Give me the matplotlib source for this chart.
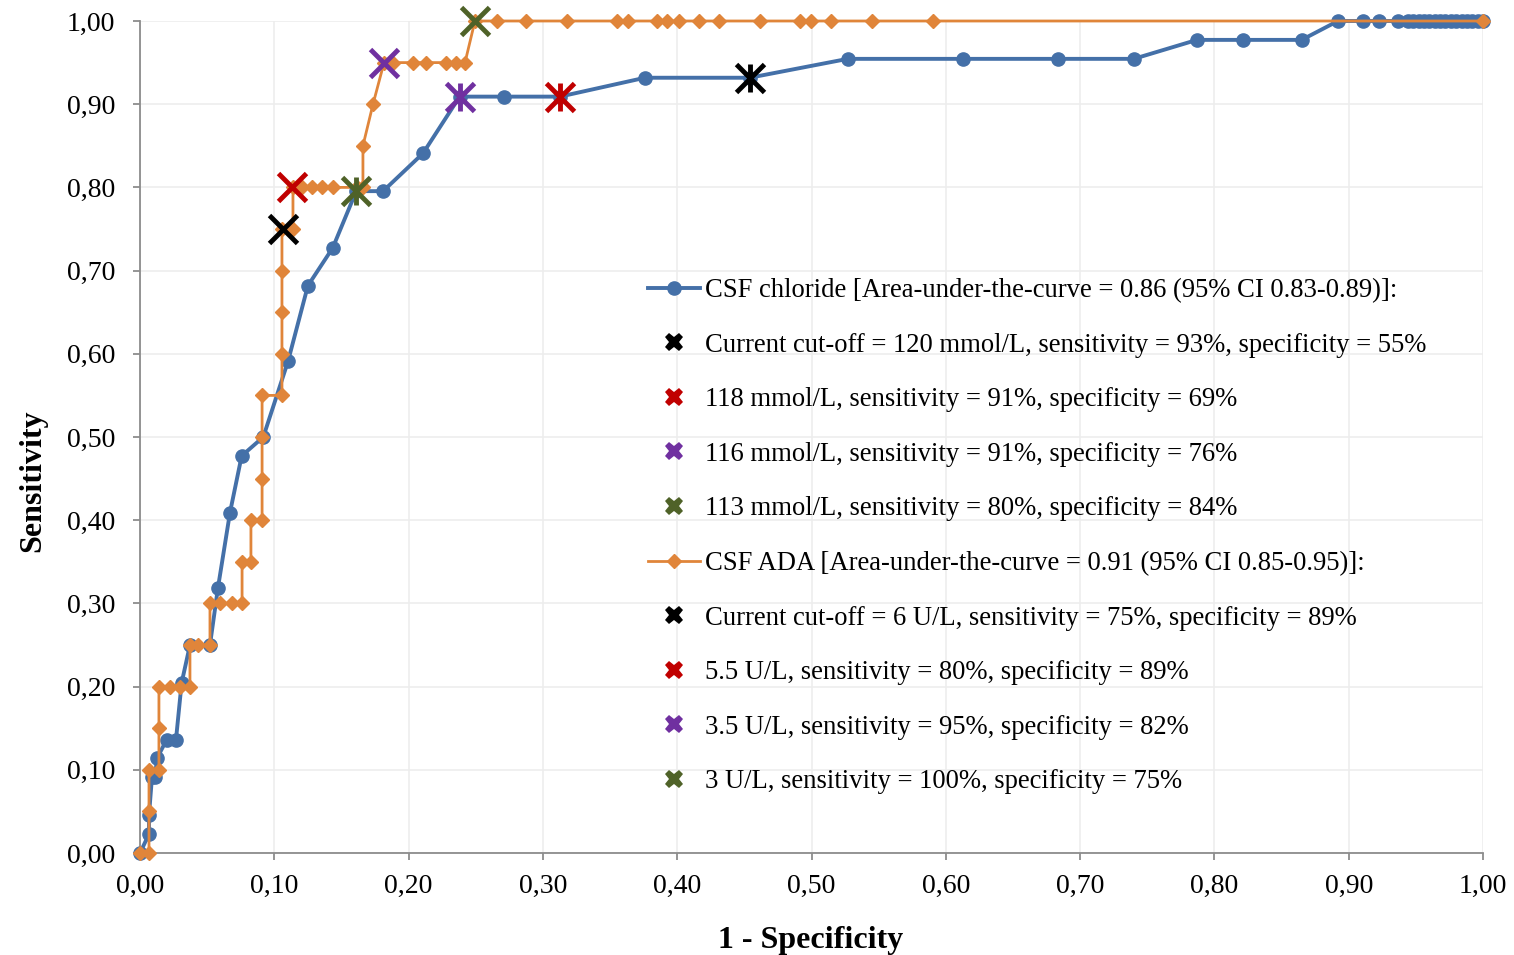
import matplotlib
matplotlib.use("Agg")
import matplotlib.pyplot as plt
from matplotlib.lines import Line2D
from matplotlib.ticker import FuncFormatter, MultipleLocator

plt.rcParams['font.family'] = ['Liberation Serif', 'DejaVu Serif']

# CSF chloride ROC curve
chl_fpr = [0.0, 0.0067, 0.0067, 0.0089, 0.0112, 0.0126, 0.0199, 0.0268, 0.0310,
           0.0372, 0.0521, 0.0580, 0.0670, 0.0757, 0.0918, 0.1102, 0.1250, 0.1435,
           0.1610, 0.1810, 0.2107, 0.2380, 0.2710, 0.3127, 0.3760, 0.4540, 0.5270,
           0.6130, 0.6835, 0.7400, 0.7870, 0.8210, 0.8650, 0.8920, 0.9110, 0.9226,
           0.9370, 0.9440, 0.9480, 0.9520, 0.9560, 0.9600, 0.9640, 0.9680, 0.9720,
           0.9760, 0.9800, 0.9840, 0.9880, 0.9920, 0.9960, 1.0]
chl_tpr = [0.0, 0.0227, 0.0455, 0.0909, 0.0909, 0.1136, 0.1364, 0.1364, 0.2045,
           0.25, 0.25, 0.3182, 0.4091, 0.4773, 0.50, 0.5909, 0.6818, 0.7273,
           0.7955, 0.7955, 0.8409, 0.9091, 0.9091, 0.9091, 0.9318, 0.9318, 0.9545,
           0.9545, 0.9545, 0.9545, 0.9773, 0.9773, 0.9773, 1.0, 1.0, 1.0,
           1.0, 1.0, 1.0, 1.0, 1.0, 1.0, 1.0, 1.0, 1.0,
           1.0, 1.0, 1.0, 1.0, 1.0, 1.0, 1.0]

# CSF ADA ROC curve
ada_fpr = [0.0, 0.0067, 0.0067, 0.0067, 0.0141, 0.0141, 0.0141, 0.0223, 0.0298,
           0.0372, 0.0372, 0.0432, 0.0521, 0.0521, 0.0596, 0.0685, 0.0760, 0.0760,
           0.0826, 0.0826, 0.0909, 0.0909, 0.0909, 0.0909, 0.1057, 0.1057, 0.1057,
           0.1057, 0.1057, 0.1139, 0.1139, 0.1206, 0.1281, 0.1355, 0.1437, 0.1616,
           0.1660, 0.1660, 0.1735, 0.1817, 0.1884, 0.2033, 0.2130, 0.2280, 0.2350,
           0.2420, 0.2494, 0.2658, 0.2874, 0.3180, 0.3550, 0.3634, 0.3850, 0.3924,
           0.4013, 0.4160, 0.4310, 0.4617, 0.4914, 0.4996, 0.5145, 0.5450, 0.5905, 1.0]
ada_tpr = [0.0, 0.0, 0.05, 0.10, 0.10, 0.15, 0.20, 0.20, 0.20,
           0.20, 0.25, 0.25, 0.25, 0.30, 0.30, 0.30, 0.30, 0.35,
           0.35, 0.40, 0.40, 0.45, 0.50, 0.55, 0.55, 0.60, 0.65,
           0.70, 0.75, 0.75, 0.80, 0.80, 0.80, 0.80, 0.80, 0.80,
           0.80, 0.85, 0.90, 0.95, 0.95, 0.95, 0.95, 0.95, 0.95,
           0.95, 1.0, 1.0, 1.0, 1.0, 1.0, 1.0, 1.0, 1.0,
           1.0, 1.0, 1.0, 1.0, 1.0, 1.0, 1.0, 1.0, 1.0, 1.0]

# Cut-off points
chl_cut_x = [0.4540, 0.3127, 0.2380, 0.1610]
chl_cut_y = [0.9318, 0.9091, 0.9091, 0.7955]
ada_cut_x = [0.1065, 0.1132, 0.1817, 0.2494]
ada_cut_y = [0.75, 0.80, 0.95, 1.0]
cut_colors = ['#000000', '#C00000', '#7030A0', '#4F6228']

chl_label = 'CSF chloride [Area-under-the-curve = 0.86 (95% CI 0.83-0.89)]:'
chl_cut_labels = ['Current cut-off = 120 mmol/L, sensitivity = 93%, specificity = 55%',
                  '118 mmol/L, sensitivity = 91%, specificity = 69%',
                  '116 mmol/L, sensitivity = 91%, specificity = 76%',
                  '113 mmol/L, sensitivity = 80%, specificity = 84%']
ada_label = 'CSF ADA [Area-under-the-curve = 0.91 (95% CI 0.85-0.95)]:'
ada_cut_labels = ['Current cut-off = 6 U/L, sensitivity = 75%, specificity = 89%',
                  '5.5 U/L, sensitivity = 80%, specificity = 89%',
                  '3.5 U/L, sensitivity = 95%, specificity = 82%',
                  '3 U/L, sensitivity = 100%, specificity = 75%']

BLUE = '#4470A8'
ORANGE = '#E0853A'

fig = plt.figure(figsize=(15.14, 9.55), dpi=100)
ax = fig.add_axes([140/1514, 102/955, 1343/1514, 832/955])

ax.plot(chl_fpr, chl_tpr, color=BLUE, lw=2.8, marker='o', ms=9.5, clip_on=False, zorder=3)
ax.plot(ada_fpr, ada_tpr, color=ORANGE, lw=2.0, marker='D', ms=7, clip_on=False, zorder=4)

for x, y, c in zip(chl_cut_x, chl_cut_y, cut_colors):
    ax.plot([x], [y], marker='x', ms=20, mew=3.5, color=c, ls='none', zorder=5, clip_on=False)
    ax.plot([x], [y], marker='|', ms=20, mew=3.5, color=c, ls='none', zorder=5, clip_on=False)
for x, y, c in zip(ada_cut_x, ada_cut_y, cut_colors):
    ax.plot([x], [y], marker='x', ms=20, mew=3.5, color=c, ls='none', zorder=5, clip_on=False)

ax.set_xlim(0, 1)
ax.set_ylim(0, 1)
ax.xaxis.set_major_locator(MultipleLocator(0.1))
ax.yaxis.set_major_locator(MultipleLocator(0.1))
fmt = FuncFormatter(lambda v, p: f"{v:.2f}".replace('.', ','))
ax.xaxis.set_major_formatter(fmt)
ax.yaxis.set_major_formatter(fmt)
ax.grid(True, color='#EDEDED', lw=1.2, zorder=0)
ax.set_axisbelow(True)
for s in ['top', 'right']:
    ax.spines[s].set_visible(False)
for s in ['left', 'bottom']:
    ax.spines[s].set_color('#8C8C8C')
    ax.spines[s].set_linewidth(1.3)
ax.tick_params(axis='both', direction='out', length=5, width=1.3, color='#8C8C8C',
               labelsize=20)
ax.tick_params(axis='x', pad=10)
ax.tick_params(axis='y', pad=13)
ax.set_xlabel('1 - Specificity', fontsize=23, fontweight='bold')
ax.set_ylabel('Sensitivity', fontsize=23, fontweight='bold')
ax.xaxis.set_label_coords(0.499, -0.0875)
ax.yaxis.set_label_coords(-0.069, 0.447)

handles = [Line2D([], [], color=BLUE, lw=2.8, marker='o', ms=9.5)]
labels = [chl_label]
for c, l in zip(cut_colors, chl_cut_labels):
    handles.append(Line2D([], [], color=c, ls='none', marker='X', ms=13, mew=0))
    labels.append(l)
handles.append(Line2D([], [], color=ORANGE, lw=2.0, marker='D', ms=7))
labels.append(ada_label)
for c, l in zip(cut_colors, ada_cut_labels):
    handles.append(Line2D([], [], color=c, ls='none', marker='X', ms=13, mew=0))
    labels.append(l)

leg = ax.legend(handles, labels, loc='upper left',
                bbox_to_anchor=(648/1514, (955-278)/955), bbox_transform=fig.transFigure,
                frameon=False, fontsize=19.2, handlelength=1.95, handletextpad=0.19,
                labelspacing=1.11, borderaxespad=0, borderpad=0)

fig.savefig('out.png', dpi=100)
